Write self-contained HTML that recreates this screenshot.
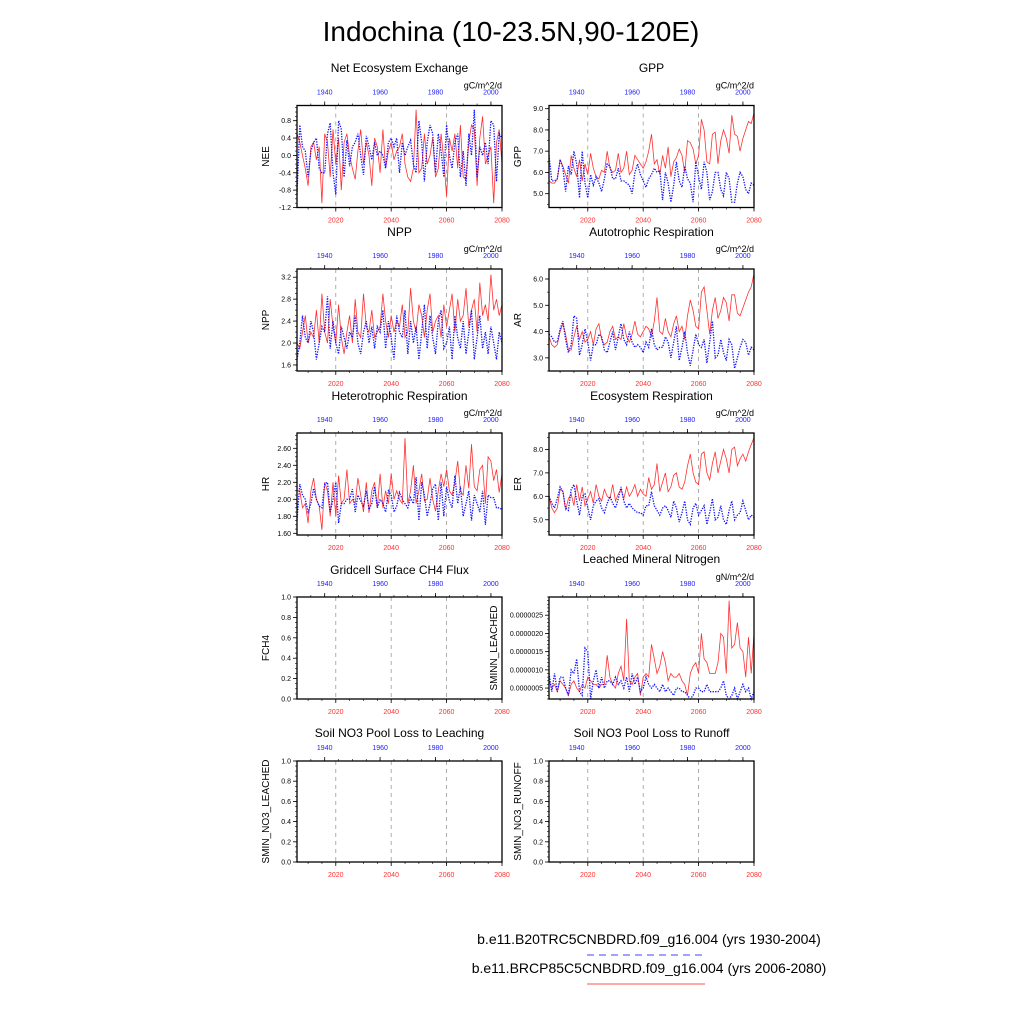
<!DOCTYPE html>
<html><head><meta charset="utf-8"><style>
body{margin:0;background:#fff;}
svg{display:block;font-family:"Liberation Sans",sans-serif;}
</style></head><body>
<svg id="chart" width="1024" height="1024" viewBox="0 0 1024 1024">
<rect width="1024" height="1024" fill="#fff"/>
<text x="511" y="41" font-size="28" text-anchor="middle">Indochina (10-23.5N,90-120E)</text>
<text x="649" y="944" font-size="14" text-anchor="middle">b.e11.B20TRC5CNBDRD.f09_g16.004 (yrs 1930-2004)</text>
<line x1="587" y1="955" x2="705" y2="955" stroke="#4040ff" stroke-dasharray="7,5"/>
<text x="649" y="973" font-size="14" text-anchor="middle">b.e11.BRCP85C5CNBDRD.f09_g16.004 (yrs 2006-2080)</text>
<line x1="587" y1="984" x2="705" y2="984" stroke="#ff5050"/>
<g id="plots"></g>
</svg>
<script>
const futureYears=[2020,2040,2060,2080];
const histYears=[1940,1960,1980,2000];
const neeRed=[0.5,0.3,0.0,-0.3,-0.7,0.2,0.3,-0.1,0.2,-1.1,0.5,0.3,-0.5,0.6,-0.2,0.4,-0.8,0.3,0.5,0.0,-0.3,-0.55,0.1,0.6,-0.2,0.3,0.0,-0.7,0.4,0.2,-0.4,0.6,-0.3,0.1,0.3,-0.1,0.1,0.2,0.5,-0.2,-0.5,-0.6,-0.3,1.05,-0.4,-0.3,0.5,-0.2,0.0,0.4,-0.5,-0.3,0.5,-0.1,-0.95,0.4,0.1,0.5,-0.3,0.7,-0.5,-0.55,0.3,0.7,0.6,-0.7,0.4,0.9,-0.2,0.0,0.2,-1.1,0.3,0.6,-0.2];
const neeBlue=[-0.9,0.7,0.2,0.1,-0.5,0.1,0.3,0.4,-0.3,-0.4,-0.4,0.5,0.75,-0.4,-0.9,0.8,0.6,-0.5,0.35,-0.25,0.2,0.3,0.5,0.0,-0.45,0.45,0.2,-0.1,0.3,0.0,0.1,0.0,-0.3,0.3,0.4,0.2,0.4,-0.4,0.3,0.0,0.2,0.35,-0.2,-0.4,0.8,0.3,-0.6,0.3,0.7,0.5,-0.4,0.5,0.1,-0.5,0.7,0.0,-0.3,0.3,0.5,-0.5,0.1,-0.7,0.5,0.0,1.05,-0.5,0.2,0.0,0.3,-0.2,0.8,0.7,-0.6,0.5,0.4];
const gppRed=[5.6,5.5,5.5,5.7,6.6,6.3,5.9,5.5,6.8,6.2,5.8,6.6,5.6,6.4,5.9,6.9,6.2,5.8,5.7,6.1,6.0,7.0,6.2,6.0,6.1,6.9,6.0,6.2,7.0,5.9,6.1,6.8,6.6,6.4,6.2,6.5,7.0,7.8,6.4,6.6,5.9,6.8,6.2,7.2,5.8,6.5,6.7,7.1,6.8,6.0,7.5,7.4,7.1,6.4,6.8,8.5,8.0,6.5,6.4,7.8,7.9,6.4,7.5,8.0,7.6,6.9,8.7,7.8,7.7,7.0,7.6,8.0,8.4,8.3,8.8];
const gppBlue=[6.8,5.6,5.6,5.7,6.6,6.2,5.1,6.3,5.9,7.0,6.4,4.8,7.0,5.5,4.8,5.9,5.4,5.8,5.5,5.1,5.7,6.4,6.3,5.7,5.7,6.2,5.6,5.6,5.5,5.4,5.0,6.0,6.4,5.9,5.6,5.3,5.7,5.9,6.2,6.0,6.1,4.7,6.0,5.5,4.6,5.4,6.5,5.6,5.3,6.3,5.7,5.5,4.6,6.5,5.8,5.2,6.5,6.0,4.7,5.1,6.0,6.0,5.2,4.9,6.0,5.7,4.6,4.6,5.5,6.0,5.8,5.2,5.0,5.5,5.4];
const nppRed=[2.0,1.9,2.2,2.5,2.0,2.2,2.1,2.6,2.0,2.9,2.2,2.0,2.8,2.3,2.0,2.7,2.1,1.8,2.2,2.5,2.0,2.8,2.2,2.1,2.9,2.3,2.2,2.6,2.1,2.2,2.3,2.9,2.4,2.1,2.5,2.2,2.4,2.3,2.7,2.1,2.2,3.0,2.4,2.2,2.7,2.5,2.1,2.6,2.9,2.2,2.4,2.5,2.1,2.7,2.3,2.6,2.9,2.2,2.8,2.4,2.5,3.0,2.3,2.6,2.8,2.2,3.1,2.5,2.7,2.4,3.25,2.6,2.8,2.5,2.7];
const nppBlue=[1.7,2.0,2.5,2.1,2.0,2.4,2.2,1.7,2.0,2.3,2.2,2.85,1.9,2.4,2.0,1.8,2.3,2.1,1.9,2.2,2.1,2.5,2.0,1.8,2.2,2.4,2.0,2.3,1.9,2.3,2.2,2.6,1.9,2.4,2.1,1.7,2.5,2.2,2.1,2.6,1.8,2.4,2.0,2.3,1.7,2.2,2.7,1.9,2.5,2.1,1.8,2.4,2.6,1.9,2.0,2.3,1.7,2.5,2.1,1.9,2.4,1.8,2.2,2.6,1.7,2.1,2.5,1.9,2.2,1.8,2.3,2.0,1.7,2.2,2.0];
const arRed=[3.8,3.5,3.4,3.5,4.0,4.3,3.9,3.3,3.3,3.8,4.2,3.7,4.0,3.6,3.7,4.0,3.5,4.1,4.3,3.7,3.5,3.6,4.0,4.2,3.7,3.8,3.7,4.3,3.8,3.6,3.9,4.4,3.9,3.8,4.0,4.2,4.1,3.8,4.4,5.3,4.0,3.9,4.5,4.0,3.8,4.3,4.6,4.0,4.2,3.7,4.6,5.2,4.8,4.2,4.1,5.5,5.7,4.8,3.9,4.8,5.3,4.5,4.8,5.3,5.1,4.4,5.4,5.4,4.7,4.6,4.9,5.2,5.5,5.7,6.2];
const arBlue=[3.9,3.8,3.6,3.6,4.1,4.4,3.7,3.2,3.5,4.6,4.5,3.1,3.5,4.1,3.6,2.9,3.5,3.5,3.9,3.8,3.3,3.2,3.6,4.0,3.3,3.8,4.3,3.7,3.5,4.0,3.6,3.4,3.5,3.4,3.2,3.6,3.4,4.1,3.5,3.3,3.4,3.4,3.8,3.6,3.0,3.6,4.2,2.9,3.4,4.0,3.2,2.7,3.3,3.9,3.5,3.4,3.7,2.8,3.6,4.4,3.0,3.1,3.7,3.2,2.9,3.7,3.5,2.6,3.0,3.4,3.7,3.6,3.1,3.4,3.3];
const hrRed=[2.1,2.1,1.9,1.95,1.72,2.1,2.25,2.0,1.92,1.64,2.2,2.1,1.8,2.2,1.8,2.28,1.95,2.0,2.35,1.95,2.0,1.95,2.25,2.05,1.85,2.2,1.84,2.1,2.2,1.9,2.3,1.9,2.1,1.95,2.3,2.0,2.1,2.0,1.95,2.72,1.95,2.1,2.4,1.95,2.1,2.3,1.98,2.0,2.25,2.0,1.86,2.1,2.3,2.15,2.35,2.1,2.05,2.2,2.45,2.1,2.05,2.4,2.13,2.65,2.15,2.1,2.35,2.4,1.95,2.5,2.45,2.22,2.35,2.08,2.3];
const hrBlue=[1.75,2.18,2.05,2.0,1.85,1.95,2.13,2.0,1.92,1.9,2.18,2.2,1.85,2.0,2.2,1.72,1.95,1.95,2.0,2.0,2.12,1.85,2.05,1.98,1.92,2.1,1.88,1.95,2.15,1.9,2.0,1.95,1.85,2.1,2.05,1.85,1.92,2.08,2.0,1.95,1.9,2.02,1.95,2.26,1.75,2.2,2.05,1.8,1.95,2.12,2.18,1.75,2.2,1.8,2.15,1.98,1.9,2.28,1.95,2.15,1.8,1.95,2.1,1.75,2.05,1.95,1.85,2.1,1.7,2.05,2.02,2.02,1.9,1.9,1.88];
const erRed=[6.0,5.5,5.3,5.5,6.3,6.2,5.4,5.9,6.1,5.6,6.5,5.8,6.4,5.6,5.9,6.2,5.7,6.5,6.0,5.8,6.3,6.0,5.9,6.5,5.8,6.1,6.3,5.9,6.4,6.0,6.2,6.5,6.0,6.3,6.1,6.0,6.8,6.3,6.5,7.4,6.2,6.6,7.0,6.2,6.4,6.9,7.0,6.4,6.3,6.6,7.3,7.8,7.0,6.6,6.5,7.8,7.9,7.0,6.7,7.4,7.9,7.0,7.5,8.0,7.6,7.0,8.0,8.1,7.3,7.6,7.8,7.5,7.9,8.2,8.5];
const erBlue=[6.0,5.7,5.5,5.9,6.4,6.2,5.5,5.4,6.3,6.5,5.8,5.2,6.0,6.1,5.5,5.0,5.6,5.8,5.9,5.5,5.3,5.7,6.0,5.7,5.5,5.9,6.4,5.8,5.5,5.7,5.5,5.4,5.3,5.3,5.2,5.6,5.6,6.2,5.6,5.4,5.2,5.5,5.6,5.4,5.1,5.8,5.5,4.9,5.3,5.8,5.0,4.8,5.5,5.7,5.2,5.4,5.6,4.8,5.3,5.9,5.0,5.1,5.6,5.0,4.8,5.4,5.8,5.0,5.2,5.3,5.8,5.4,5.0,5.2,5.1];
const sminnRed=[7e-7,5e-7,6e-7,4e-7,7e-7, 6e-7,5e-7,3e-7,6e-7,7e-7, 5e-7,4e-7,6e-7,5e-7,8e-7, 7e-7,6e-7,6e-7,5e-7,6e-7, 6e-7,1.4e-6,8e-7,6e-7,5e-7, 9e-7,1.1e-6,7e-7,2.4e-6,7e-7, 6e-7,8e-7,9e-7,3e-7,8e-7, 9e-7,8e-7,1.7e-6,1.3e-6,9e-7, 1.1e-6,1.5e-6,1.2e-6,7e-7,9e-7, 8e-7,8e-7,9e-7,7e-7,6e-7, 3e-7,9e-7,1.1e-6,1.2e-6,9e-7, 2e-6,1.3e-6,1.2e-6,9e-7,9e-7, 9e-7,1.2e-6,2e-6,1.9e-6,9e-7, 2.9e-6,1.6e-6,1.7e-6,2.3e-6,1.6e-6, 1.5e-6,8e-7,1.9e-6,9e-7,2e-6];
const sminnBlue=[9e-7,4e-7,9e-7,4e-7,8e-7, 8e-7,5e-7,3e-7,1e-6,9e-7, 1.3e-6,4e-7,3e-7,1.6e-6,1.5e-6, 2e-7,7e-7,1e-6,5e-7,8e-7, 5e-7,7e-7,7e-7,6e-7,8e-7, 6e-7,7e-7,5e-7,8e-7,4e-7, 9e-7,6e-7,8e-7,4e-7,5e-7, 8e-7,6e-7,5e-7,6e-7,5e-7, 4e-7,6e-7,4e-7,5e-7,4e-7, 3e-7,5e-7,5e-7,4e-7,4e-7, 3e-7,2e-7,3e-7,5e-7,5e-7, 4e-7,4e-7,6e-7,4e-7,4e-7, 4e-7,4e-7,5e-7,7e-7,3e-7, 2e-7,3e-7,5e-7,2e-7,4e-7, 6e-7,4e-7,5e-7,2e-7,4e-7];

const panels=[
 {id:'nee',title:'Net Ecosystem Exchange',ty:72,yl:'NEE',unit:'gC/m^2/d',col:0,top:105.5,bot:207.5,ymin:-1.2,ymax:1.15,ticks:[-1.2,-0.8,-0.4,0.0,0.4,0.8],dec:1,minor:0.1,red:neeRed,blue:neeBlue},
 {id:'gpp',title:'GPP',ty:72,yl:'GPP',unit:'gC/m^2/d',col:1,top:105.5,bot:207.5,ymin:4.35,ymax:9.15,ticks:[5,6,7,8,9],dec:1,minor:0.5,red:gppRed,blue:gppBlue},
 {id:'npp',title:'NPP',ty:236,yl:'NPP',unit:'gC/m^2/d',col:0,top:269,bot:371,ymin:1.49,ymax:3.35,ticks:[1.6,2.0,2.4,2.8,3.2],dec:1,minor:0.1,red:nppRed,blue:nppBlue},
 {id:'ar',title:'Autotrophic Respiration',ty:236,yl:'AR',unit:'gC/m^2/d',col:1,top:269,bot:371,ymin:2.5,ymax:6.38,ticks:[3,4,5,6],dec:1,minor:0.5,red:arRed,blue:arBlue},
 {id:'hr',title:'Heterotrophic Respiration',ty:400,yl:'HR',unit:'gC/m^2/d',col:0,top:433,bot:535,ymin:1.58,ymax:2.78,ticks:[1.6,1.8,2.0,2.2,2.4,2.6],dec:2,minor:0.05,red:hrRed,blue:hrBlue},
 {id:'er',title:'Ecosystem Respiration',ty:400,yl:'ER',unit:'gC/m^2/d',col:1,top:433,bot:535,ymin:4.35,ymax:8.7,ticks:[5,6,7,8],dec:1,minor:0.5,red:erRed,blue:erBlue},
 {id:'fch4',title:'Gridcell Surface CH4 Flux',ty:574,yl:'FCH4',unit:'',col:0,top:597,bot:699,ymin:0,ymax:1,ticks:[0,0.2,0.4,0.6,0.8,1.0],dec:1,minor:0.05,red:[],blue:[]},
 {id:'sminn',title:'Leached Mineral Nitrogen',ty:563,yl:'SMINN_LEACHED',unit:'gN/m^2/d',col:1,top:597,bot:699,ymin:2e-7,ymax:3e-6,ticks:[5e-7,1e-6,1.5e-6,2e-6,2.5e-6],dec:7,minor:1e-7,red:sminnRed,blue:sminnBlue},
 {id:'leach',title:'Soil NO3 Pool Loss to Leaching',ty:737,yl:'SMIN_NO3_LEACHED',unit:'',col:0,top:761,bot:862,ymin:0,ymax:1,ticks:[0,0.2,0.4,0.6,0.8,1.0],dec:1,minor:0.05,red:[],blue:[]},
 {id:'runoff',title:'Soil NO3 Pool Loss to Runoff',ty:737,yl:'SMIN_NO3_RUNOFF',unit:'',col:1,top:761,bot:862,ymin:0,ymax:1,ticks:[0,0.2,0.4,0.6,0.8,1.0],dec:1,minor:0.05,red:[],blue:[]}
];
const NS='http://www.w3.org/2000/svg';
const root=document.getElementById('plots');
function mk(tag,attrs,parent){const e=document.createElementNS(NS,tag);for(const k in attrs)e.setAttribute(k,attrs[k]);(parent||root).appendChild(e);return e;}
panels.forEach(p=>{
 const x0=p.col?549:297, x1=p.col?754:502;
 const g=mk('g',{});
 
 
 const xs=yr=>x0+(yr-2006)/(74)*(x1-x0);
 const ys=v=>p.bot-(v-p.ymin)/(p.ymax-p.ymin)*(p.bot-p.top);
 const t=mk('text',{x:(x0+x1)/2,y:p.ty,'font-size':12,'text-anchor':'middle'},g);t.textContent=p.title;
 
 
 if(p.unit){const u=mk('text',{x:x1,y:p.top-17,'font-size':9,'text-anchor':'end'},g);u.textContent=p.unit;
  
  }
 const yx=p.dec>2?x0-52:x0-28;
 const yt=mk('text',{x:0,y:0,'font-size':10,'text-anchor':'middle',transform:`translate(${yx},${(p.top+p.bot)/2}) rotate(-90)`},g);yt.textContent=p.yl;
 
 
 [2020,2040,2060].forEach(yr=>mk('line',{x1:xs(yr),x2:xs(yr),y1:p.top,y2:p.bot,stroke:'#999','stroke-width':0.8,'stroke-dasharray':'4,4'},g));
 futureYears.forEach(yr=>{mk('line',{x1:xs(yr),x2:xs(yr),y1:p.bot,y2:p.bot+4,stroke:'#000','stroke-width':0.8},g);
  const l=mk('text',{x:xs(yr),y:p.bot+15,'font-size':7,fill:'#ff3030','text-anchor':'middle'},g);l.textContent=yr;
  
  });
 for(let yr=2010;yr<=2080;yr+=5){mk('line',{x1:xs(yr),x2:xs(yr),y1:p.bot,y2:p.bot+2,stroke:'#000','stroke-width':0.6},g);}
 histYears.forEach(yr=>{const xx=xs(yr+76);mk('line',{x1:xx,x2:xx,y1:p.top,y2:p.top-4,stroke:'#000','stroke-width':0.8},g);
  const l=mk('text',{x:xx,y:p.top-11,'font-size':7,fill:'#2020ff','text-anchor':'middle'},g);l.textContent=yr;
  
  });
 for(let yr=1935;yr<=2004;yr+=5){const xx=xs(yr+76);mk('line',{x1:xx,x2:xx,y1:p.top,y2:p.top-2,stroke:'#000','stroke-width':0.6},g);}
 for(let v=Math.ceil(p.ymin/p.minor)*p.minor;v<=p.ymax+1e-12;v+=p.minor){mk('line',{x1:x0,x2:x0-2,y1:ys(v),y2:ys(v),stroke:'#000','stroke-width':0.6},g);}
 p.ticks.forEach(v=>{mk('line',{x1:x0,x2:x0-4,y1:ys(v),y2:ys(v),stroke:'#000','stroke-width':0.8},g);
  const l=mk('text',{x:x0-6,y:ys(v)+2.5,'font-size':7,'text-anchor':'end'},g);l.textContent=v.toFixed(p.dec);
  
  });
 const path=arr=>arr.map((v,i)=>(i?'L':'M')+xs(2006+i).toFixed(1)+','+ys(v).toFixed(1)).join('');
 if(p.red.length){const r=mk('path',{d:path(p.red),fill:'none',stroke:'#ff3030','stroke-width':0.8},g);
  
  }
 if(p.blue.length){const b=mk('path',{d:path(p.blue),fill:'none',stroke:'#1010ff','stroke-width':1.3,'stroke-dasharray':'1.3,1.3'},g);
  
  }
 mk('rect',{x:x0,y:p.top,width:x1-x0,height:p.bot-p.top,fill:'none',stroke:'#000','stroke-width':1.3},g);
});
</script>
</body></html>
